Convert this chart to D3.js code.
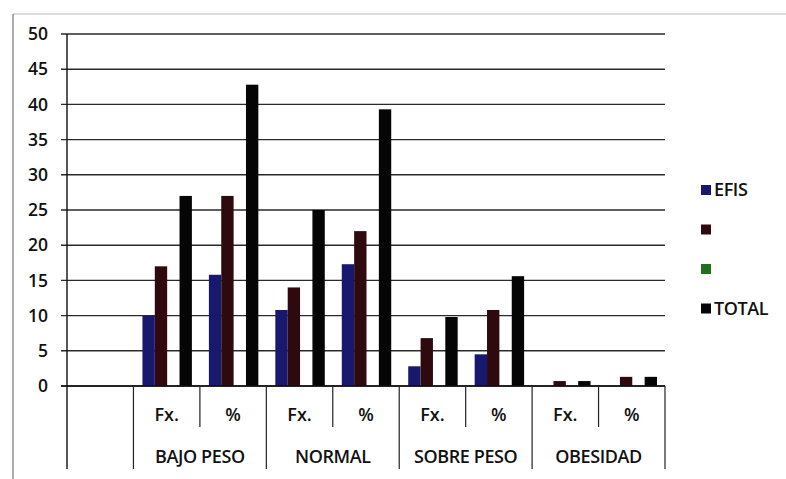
<!DOCTYPE html>
<html><head><meta charset="utf-8">
<script src="https://cdn.jsdelivr.net/npm/d3@7"></script>
<style>
html,body{margin:0;padding:0;background:#fff;}
svg{display:block;}
text{font-family:"Open Sans",sans-serif;font-weight:600;fill:#111;}
</style></head>
<body>
<svg id="chart" width="786" height="479"></svg>
<script>
// ---- data ----
const subCategories = ["", "Fx.", "%", "Fx.", "%", "Fx.", "%", "Fx.", "%"];
const groups = ["BAJO PESO", "NORMAL", "SOBRE PESO", "OBESIDAD"];
const seriesNames = ["EFIS", "", "", "TOTAL"];
const efis  = [null, 10, 15.8, 10.8, 17.3, 2.8, 4.5, 0, 0];
const s2    = [null, 17, 27, 14, 22, 6.8, 10.8, 0.7, 1.3];
const s3    = [null, 0, 0, 0, 0, 0, 0, 0, 0];
const total = [null, 27, 42.8, 25, 39.3, 9.8, 15.6, 0.7, 1.3];
const yTicks = [0, 5, 10, 15, 20, 25, 30, 35, 40, 45, 50];
const colors = ["#18186e", "#2e0a0f", "#22701f", "#050505"];

const seriesValues = [efis, s2, s3, total];

const svg = d3.select("#chart");
const mLeft = 67, mRight = 665, mTop = 34, mBottom = 386;

// frame
svg.append("line").attr("x1",13).attr("x2",786).attr("y1",14).attr("y2",14).attr("stroke","#bbb").attr("stroke-width",1.2);
svg.append("line").attr("x1",13).attr("x2",13).attr("y1",14).attr("y2",479).attr("stroke","#777").attr("stroke-width",1.2);

const y = d3.scaleLinear().domain([0, 50]).range([mBottom, mTop]);
const idx = d3.range(subCategories.length);
const x = d3.scaleBand().domain(idx).range([mLeft, mRight]).paddingInner(0).paddingOuter(0);
const xi = d3.scaleBand().domain(d3.range(4)).range([9, x.bandwidth() - 8]).padding(0);

// gridlines
svg.append("g").selectAll("line").data(yTicks).join("line")
  .attr("x1", mLeft - 6).attr("x2", mRight).attr("y1", d => y(d)).attr("y2", d => y(d))
  .attr("stroke", "#2a2a2a").attr("stroke-width", 1.4);

// y labels
svg.append("g").selectAll("text").data(yTicks).join("text")
  .attr("x", 48).attr("y", d => y(d)).attr("dy", "0.35em").attr("text-anchor", "end")
  .attr("font-size", 17.5).text(d => d);

// bars
seriesValues.forEach((vals, si) => {
  svg.append("g").selectAll("rect")
    .data(idx.filter(i => vals[i] !== null && vals[i] > 0))
    .join("rect")
    .attr("x", i => x(i) + xi(si))
    .attr("width", xi.bandwidth())
    .attr("y", i => y(vals[i]))
    .attr("height", i => y(0) - y(vals[i]))
    .attr("fill", colors[si]);
});

// axes
svg.append("line").attr("x1", mLeft).attr("x2", mLeft).attr("y1", mTop).attr("y2", 469).attr("stroke", "#111").attr("stroke-width", 1.4);
svg.append("line").attr("x1", mLeft - 6).attr("x2", mRight).attr("y1", mBottom).attr("y2", mBottom).attr("stroke", "#111").attr("stroke-width", 1.6);

// category separators
idx.concat([idx.length]).forEach(i => {
  if (i === 0) return;
  const xx = i < idx.length ? x(i) : mRight;
  const isGroupEdge = (i % 2 === 1) || i === idx.length;
  svg.append("line").attr("x1", xx).attr("x2", xx).attr("y1", mBottom).attr("y2", isGroupEdge ? 469 : 427)
    .attr("stroke", "#222").attr("stroke-width", 1.2);
});

// sub labels
svg.append("g").selectAll("text").data(idx.filter(i => subCategories[i] !== "")).join("text")
  .attr("x", i => x(i) + x.bandwidth() / 2).attr("y", 415).attr("dy", "0.35em")
  .attr("text-anchor", "middle").attr("font-size", 18).text(i => subCategories[i]);

// group labels
svg.append("g").selectAll("text").data(groups).join("text")
  .attr("x", (d, g) => x(1 + g * 2) + x.bandwidth()).attr("y", 457).attr("dy", "0.35em")
  .attr("text-anchor", "middle").attr("font-size", 18).attr("letter-spacing", "-0.4").text(d => d);

// legend
const leg = svg.append("g").selectAll("g").data(seriesNames).join("g")
  .attr("transform", (d, i) => `translate(701, ${190 + i * 39.5})`);
leg.append("rect").attr("x", 0).attr("y", -5).attr("width", 10).attr("height", 10).attr("fill", (d, i) => colors[i]);
leg.append("text").attr("x", 13).attr("y", 0).attr("dy", "0.35em").attr("font-size", 18).attr("letter-spacing", "-0.4").text(d => d);
</script>
</body></html>
